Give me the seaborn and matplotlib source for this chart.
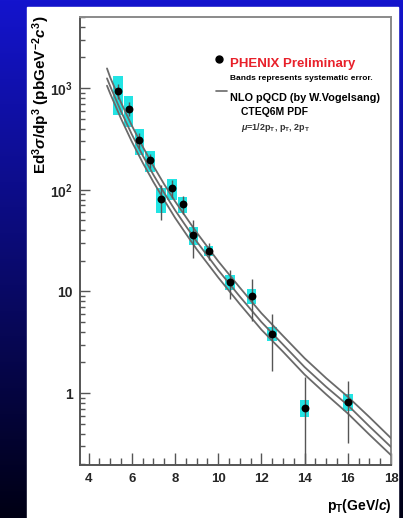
import numpy as np
import pandas as pd
import matplotlib
matplotlib.use("Agg")
import matplotlib.pyplot as plt
from matplotlib.patches import Rectangle
from matplotlib.ticker import LogLocator, MultipleLocator, FixedLocator, FixedFormatter, NullFormatter
import seaborn as sns

# ---- measured direct-photon cross section ----
pt = [5.35, 5.85, 6.35, 6.85, 7.35, 7.85, 8.35, 8.85, 9.55, 10.55, 11.55, 12.5, 14.0, 16.0]
xsec = [935, 627, 309, 194, 81, 104, 72, 35.7, 25.2, 12.4, 9.1, 3.85, 0.72, 0.82]
stat_err = [150, 100, 50, 30, 31, 22, 14, 14.5, 5, 4, 4, 2.2, 0.71, 0.5]
sys_err = [390, 210, 88, 46, 22, 24, 13.5, 7, 3, 2, 1.5, 0.6, 0.14, 0.15]

# ---- NLO pQCD curves for three scale choices ----
pt_nlo = [4.85, 5.0, 5.5, 6.0, 6.5, 7.0, 7.5, 8.0, 8.5, 9.0, 10.0, 11.0, 12.0, 13.0, 14.0, 15.0, 16.0, 17.0, 18.0]
nlo_half = [1560, 1270, 720, 427, 266, 171, 113, 77, 54, 38, 19.8, 10.9, 6.1, 3.65, 2.2, 1.4, 0.92, 0.58, 0.36]
nlo_one = [1245, 1040, 590, 350, 218, 140, 93, 63, 44, 31, 16.2, 8.9, 5.0, 3.0, 1.8, 1.15, 0.76, 0.47, 0.295]
nlo_two = [1055, 880, 500, 297, 185, 119, 79, 53, 37, 26, 13.7, 7.5, 4.2, 2.55, 1.52, 0.97, 0.63, 0.39, 0.245]

y_ticks = [1, 10, 100, 1000]
y_ticklabels = ["1", "10", r"$10^{2}$", r"$10^{3}$"]
x_ticks = [4, 6, 8, 10, 12, 14, 16, 18]

sns.set_style("white")
plt.rcParams["font.family"] = ["Liberation Sans", "DejaVu Sans"]
plt.rcParams["font.weight"] = "bold"
plt.rcParams["mathtext.fontset"] = "custom"
plt.rcParams["mathtext.rm"] = "Liberation Sans:bold"
plt.rcParams["mathtext.it"] = "Liberation Sans:bold:italic"
plt.rcParams["mathtext.bf"] = "Liberation Sans:bold"

W, H = 403, 518
fig = plt.figure(figsize=(W / 100, H / 100), dpi=100)

# slide background: blue gradient with a white panel
ax_bg = fig.add_axes([0, 0, 1, 1], zorder=-5)
t = np.linspace(0, 1, 256)[:, None]
top = np.array([20, 20, 205]) / 255.0
bot = np.array([0, 0, 20]) / 255.0
grad = (top[None, None, :] * (1 - t[..., None]) + bot[None, None, :] * t[..., None])
ax_bg.imshow(grad, aspect="auto", extent=[0, W, H, 0])
ax_bg.add_patch(Rectangle((27, 7), 371, 520, color="white", zorder=2))
ax_bg.set_xlim(0, W)
ax_bg.set_ylim(H, 0)
ax_bg.axis("off")

ax = fig.add_axes([80 / W, 1 - 465 / H, (391 - 80) / W, (465 - 17) / H])
ax.set_facecolor("white")
ax.set_yscale("log")

# systematic error bands
xs = np.array(pt)
ys = np.array(xsec)
se = np.array(sys_err)
ax.bar(xs, 2 * se, bottom=ys - se, width=0.44, color="#22e4e4", edgecolor="none", zorder=2)

# NLO curves
curves = pd.DataFrame({
    "pT": pt_nlo * 3,
    "value": nlo_half + nlo_one + nlo_two,
    "scale": ["half"] * len(pt_nlo) + ["one"] * len(pt_nlo) + ["two"] * len(pt_nlo),
})
sns.lineplot(data=curves, x="pT", y="value", hue="scale", palette=["#6a6a6a"] * 3,
             legend=False, estimator=None, sort=False, linewidth=1.3, ax=ax, zorder=3)

# statistical errors and points
ax.errorbar(xs, ys, yerr=np.array(stat_err), fmt="none", ecolor="#555555", elinewidth=1.0,
            capsize=0, zorder=4)
sns.scatterplot(x=xs, y=ys, color="black", s=32, edgecolor="black", linewidth=0, ax=ax, zorder=5)

ax.set_xlim(3.6, 18)
ax.set_ylim(0.196, 5000)
ax.set_xlabel("")
ax.set_ylabel("")

ax.xaxis.set_major_locator(FixedLocator(x_ticks))
ax.xaxis.set_minor_locator(MultipleLocator(0.5))
ax.yaxis.set_major_locator(FixedLocator(y_ticks))
ax.yaxis.set_major_formatter(FixedFormatter(y_ticklabels))
ax.yaxis.set_minor_locator(LogLocator(base=10, subs=np.arange(2, 10)))
ax.yaxis.set_minor_formatter(NullFormatter())

ax.tick_params(axis="x", which="major", direction="in", length=8.4, width=1, color="#555555",
               labelsize=9.5, pad=6, bottom=True, top=False)
ax.tick_params(axis="x", which="minor", direction="in", length=4.8, width=1, color="#555555",
               bottom=True, top=False)
ax.tick_params(axis="y", which="major", direction="in", length=7.2, width=1, color="#555555",
               labelsize=10, pad=5, left=True, right=False)
ax.tick_params(axis="y", which="minor", direction="in", length=3.6, width=1, color="#555555",
               left=True, right=False)
for lab in ax.get_xticklabels() + ax.get_yticklabels():
    lab.set_fontweight("bold")

for side in ["left", "bottom", "right", "top"]:
    ax.spines[side].set_visible(True)
    ax.spines[side].set_color("#555555")
    ax.spines[side].set_linewidth(1.4)
ax.spines["right"].set_color("#8a8a8a")
ax.spines["top"].set_color("#8a8a8a")

# axis titles
fig.text(41 / W, 1 - 95 / H, r"Ed$^{3}\sigma$/dp$^{3}$ (pbGeV$^{-2}$$c^{3}$)", rotation=90,
         ha="center", va="center", fontsize=11, fontweight="bold", color="black")
fig.text(392 / W, 3 / H, r"p$_{\mathrm{T}}$(GeV/$c$)", ha="right", va="bottom",
         fontsize=10, fontweight="bold", color="black")

# legend block
fig.add_artist(plt.Line2D([219 / W], [1 - 59 / H], marker="o", markersize=5, color="black",
                          linestyle="none", transform=fig.transFigure))
fig.text(230 / W, 1 - 64 / H, "PHENIX Preliminary", ha="left", va="center", fontsize=9.5,
         fontweight="bold", color="#e8202a")
fig.text(230 / W, 1 - 78.5 / H, "Bands represents systematic error.", ha="left", va="center",
         fontsize=6, fontweight="bold", color="black")
fig.add_artist(plt.Line2D([216 / W, 227 / W], [1 - 91 / H, 1 - 91 / H], color="#6a6a6a",
                          linewidth=1.2, transform=fig.transFigure))
fig.text(230 / W, 1 - 98 / H, "NLO pQCD (by W.Vogelsang)", ha="left", va="center", fontsize=7.8,
         fontweight="bold", color="black")
fig.text(241 / W, 1 - 112 / H, "CTEQ6M PDF", ha="left", va="center", fontsize=7.5,
         fontweight="bold", color="black")
fig.text(241 / W, 1 - 127 / H, r"$\mu$=1/2p$_{\mathrm{T}}$, p$_{\mathrm{T}}$, 2p$_{\mathrm{T}}$",
         ha="left", va="center", fontsize=6.5, fontweight="bold", color="#333333")

fig.savefig("out.png", dpi=100)
